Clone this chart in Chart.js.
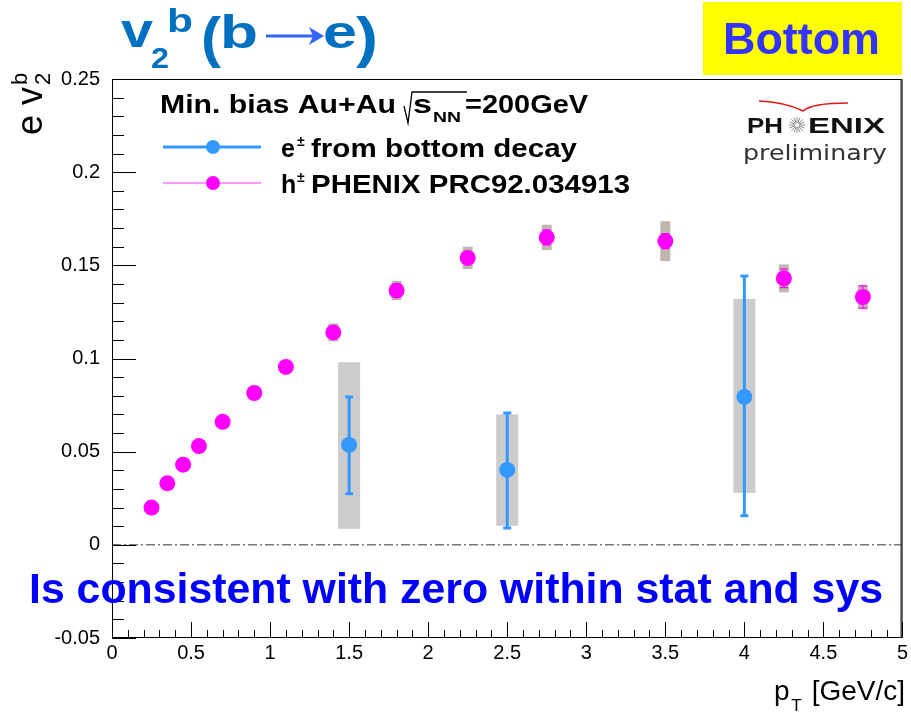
<!DOCTYPE html>
<html>
<head>
<meta charset="utf-8">
<script src="https://cdn.jsdelivr.net/npm/chart.js@4.4.0/dist/chart.umd.min.js"></script>
<style>
  html, body { margin: 0; padding: 0; background: #fff; }
  #wrap { width: 911px; height: 715px; position: relative; }
</style>
</head>
<body>
<div id="wrap"><canvas id="myChart" width="911" height="715"></canvas></div>
<script>
// h+- PHENIX PRC92.034913
const hPt      = [0.25, 0.35, 0.45, 0.55, 0.7, 0.9, 1.1, 1.4, 1.8, 2.25, 2.75, 3.5, 4.25, 4.75];
const hV2      = [0.020, 0.033, 0.043, 0.053, 0.066, 0.0815, 0.0955, 0.114, 0.1365, 0.154, 0.165, 0.163, 0.143, 0.133];
const hStat    = [0, 0, 0, 0, 0, 0, 0, 0.002, 0.003, 0.003, 0.004, 0.004, 0.005, 0.006];
const hSys     = [0, 0, 0, 0, 0, 0, 0, 0.0048, 0.0052, 0.006, 0.0068, 0.0107, 0.0075, 0.0065];

// e+- from bottom decay
const bPt      = [1.5, 2.5, 4.0];
const bV2      = [0.0536, 0.0402, 0.0794];
const bStatHi  = [0.0794, 0.0708, 0.1443];
const bStatLo  = [0.0274, 0.0091, 0.0156];
const bSysHi   = [0.098, 0.070, 0.132];
const bSysLo   = [0.0086, 0.0102, 0.0279];

const xTicks = [0, 0.5, 1, 1.5, 2, 2.5, 3, 3.5, 4, 4.5, 5];
const xTickLabels = ['0', '0.5', '1', '1.5', '2', '2.5', '3', '3.5', '4', '4.5', '5'];
const yTicks = [-0.05, 0, 0.05, 0.1, 0.15, 0.2, 0.25];
const yTickLabels = ['-0.05', '0', '0.05', '0.1', '0.15', '0.2', '0.25'];

const BLUE = '#3399ff';
const MAG = '#ff00ff';
const FONT = '"Liberation Sans", Arial, sans-serif';

// text squeezed/stretched to a given width
function fitText(c, txt, x, y, w, font, color) {
  c.save();
  c.font = font;
  c.fillStyle = color;
  c.textAlign = 'left';
  c.textBaseline = 'alphabetic';
  const m = c.measureText(txt).width;
  c.translate(x, y);
  c.scale(w / m, 1);
  c.fillText(txt, 0, 0);
  c.restore();
}
function txt(c, t, x, y, font, color, align) {
  c.save();
  c.font = font;
  c.fillStyle = color;
  c.textAlign = align || 'left';
  c.textBaseline = 'alphabetic';
  c.fillText(t, x, y);
  const w = c.measureText(t).width;
  c.restore();
  return w;
}

const decor = {
  id: 'decor',
  beforeDatasetsDraw(chart) {
    const c = chart.ctx, xs = chart.scales.x, ys = chart.scales.y, a = chart.chartArea;
    c.save();
    // dash-dot zero line
    c.strokeStyle = '#333';
    c.lineWidth = 1;
    c.setLineDash([9, 3, 2, 3]);
    c.beginPath();
    c.moveTo(a.left, ys.getPixelForValue(0));
    c.lineTo(a.right, ys.getPixelForValue(0));
    c.stroke();
    c.setLineDash([]);

    // systematic boxes, bottom
    c.fillStyle = '#cccccc';
    bPt.forEach((p, i) => {
      const x = xs.getPixelForValue(p);
      const y1 = ys.getPixelForValue(bSysHi[i]), y2 = ys.getPixelForValue(bSysLo[i]);
      c.fillRect(x - 11, y1, 22, y2 - y1);
    });
    // systematic boxes, hadrons
    c.fillStyle = '#c0b8b0';
    hPt.forEach((p, i) => {
      if (!hSys[i]) return;
      const x = xs.getPixelForValue(p);
      const y1 = ys.getPixelForValue(hV2[i] + hSys[i]), y2 = ys.getPixelForValue(hV2[i] - hSys[i]);
      c.fillRect(x - 5, y1, 10, y2 - y1);
    });

    // stat error bars, bottom
    c.strokeStyle = BLUE;
    c.lineWidth = 3;
    bPt.forEach((p, i) => {
      const x = xs.getPixelForValue(p);
      const y1 = ys.getPixelForValue(bStatHi[i]), y2 = ys.getPixelForValue(bStatLo[i]);
      c.beginPath();
      c.moveTo(x, y1); c.lineTo(x, y2);
      c.moveTo(x - 4, y1); c.lineTo(x + 4, y1);
      c.moveTo(x - 4, y2); c.lineTo(x + 4, y2);
      c.stroke();
    });
    // stat error bars, hadrons
    c.strokeStyle = MAG;
    c.lineWidth = 1.2;
    hPt.forEach((p, i) => {
      if (!hStat[i]) return;
      const x = xs.getPixelForValue(p);
      const y1 = ys.getPixelForValue(hV2[i] + hStat[i]), y2 = ys.getPixelForValue(hV2[i] - hStat[i]);
      c.beginPath();
      c.moveTo(x, y1); c.lineTo(x, y2);
      c.moveTo(x - 4, y1); c.lineTo(x + 4, y1);
      c.moveTo(x - 4, y2); c.lineTo(x + 4, y2);
      c.stroke();
    });
    c.restore();
  },
  afterDraw(chart) {
    const c = chart.ctx, xs = chart.scales.x, ys = chart.scales.y, a = chart.chartArea;
    c.save();
    // frame
    c.strokeStyle = '#000';
    c.lineWidth = 1;
    c.strokeRect(a.left + 0.5, a.top + 0.5, a.right - a.left - 1, a.bottom - a.top - 1);
    c.strokeStyle = '#444';
    c.lineWidth = 2;
    c.beginPath();
    c.moveTo(a.right - 1, a.top); c.lineTo(a.right - 1, a.bottom);
    c.stroke();

    // inward ticks
    c.strokeStyle = '#000';
    c.lineWidth = 1;
    c.beginPath();
    for (let k = 0; k <= 30; k++) {
      const v = -0.05 + k * 0.01;
      const y = Math.round(ys.getPixelForValue(v)) + 0.5;
      const len = (k % 5 === 0) ? 24 : 12;
      c.moveTo(a.left, y); c.lineTo(a.left + len, y);
    }
    for (let k = 0; k <= 50; k++) {
      const x = Math.round(xs.getPixelForValue(k * 0.1)) + 0.5;
      const len = (k % 5 === 0) ? 16 : 8;
      c.moveTo(x, a.bottom); c.lineTo(x, a.bottom - len);
    }
    c.stroke();
    c.restore();

    // title v2b(b->e)
    const tc = '#0070c0';
    fitText(c, 'v', 121, 47, 32, 'bold 48px ' + FONT, tc);
    fitText(c, '2', 151, 68, 18, 'bold 30px ' + FONT, tc);
    fitText(c, 'b', 167, 32, 26, 'bold 33px ' + FONT, tc);
    fitText(c, '(', 201, 56, 20, 'bold 55px ' + FONT, tc);
    fitText(c, 'b', 220, 48, 38, 'bold 46px ' + FONT, tc);
    c.save();
    c.strokeStyle = '#3366ff';
    c.fillStyle = '#3366ff';
    c.lineWidth = 3;
    c.beginPath(); c.moveTo(266, 36); c.lineTo(314, 36); c.stroke();
    c.beginPath(); c.moveTo(324, 36); c.lineTo(309, 27); c.lineTo(313, 36); c.lineTo(309, 45); c.closePath(); c.fill();
    c.restore();
    fitText(c, 'e', 323, 48, 34, 'bold 46px ' + FONT, tc);
    fitText(c, ')', 356, 56, 22, 'bold 55px ' + FONT, tc);

    // Bottom label
    c.fillStyle = '#ffff00';
    c.fillRect(703, 2, 199, 73);
    fitText(c, 'Bottom', 723, 54, 157, 'bold 44px ' + FONT, '#3333ff');

    // legend
    const lb = 'bold 25px ' + FONT;
    fitText(c, 'Min. bias Au+Au', 160, 113, 236, lb, '#000');
    c.save();
    c.strokeStyle = '#000';
    c.lineWidth = 1.3;
    c.beginPath();
    c.moveTo(404, 106); c.lineTo(408, 123); c.lineTo(412, 92); c.lineTo(467, 92);
    c.stroke();
    c.restore();
    fitText(c, 's', 413, 113, 19, lb, '#000');
    fitText(c, 'NN', 433, 122, 28, 'bold 15px ' + FONT, '#000');
    fitText(c, '=200GeV', 465, 113, 123, lb, '#000');

    c.save();
    c.strokeStyle = BLUE; c.lineWidth = 3;
    c.beginPath(); c.moveTo(163, 147); c.lineTo(261, 147); c.stroke();
    c.fillStyle = BLUE;
    c.beginPath(); c.arc(213, 147, 7, 0, Math.PI * 2); c.fill();
    c.strokeStyle = '#ff77ff'; c.lineWidth = 1.5;
    c.beginPath(); c.moveTo(163, 183); c.lineTo(261, 183); c.stroke();
    c.fillStyle = MAG;
    c.beginPath(); c.arc(213, 183, 7, 0, Math.PI * 2); c.fill();
    c.restore();
    txt(c, 'e', 281, 157, lb, '#000');
    txt(c, '\u00b1', 297, 146, 'bold 14px ' + FONT, '#000');
    fitText(c, 'from bottom decay', 311, 157, 266, lb, '#000');
    txt(c, 'h', 281, 193, lb, '#000');
    txt(c, '\u00b1', 297, 182, 'bold 14px ' + FONT, '#000');
    fitText(c, 'PHENIX PRC92.034913', 311, 193, 319, lb, '#000');

    // PHENIX preliminary logo
    c.save();
    c.strokeStyle = '#e01818'; c.lineWidth = 1.6;
    c.beginPath();
    c.moveTo(759, 101); c.quadraticCurveTo(785, 102, 803, 111);
    c.quadraticCurveTo(812, 103, 848, 103);
    c.stroke();
    c.strokeStyle = '#8a8a8a'; c.lineWidth = 1;
    c.beginPath();
    for (let k = 0; k < 16; k++) {
      const ang = k * Math.PI / 8;
      c.moveTo(797 + 2 * Math.cos(ang), 125 + 2 * Math.sin(ang));
      c.lineTo(797 + 8 * Math.cos(ang), 125 + 8 * Math.sin(ang));
    }
    c.stroke();
    c.restore();
    fitText(c, 'PH', 747, 133, 36, 'bold 22px ' + FONT, '#111');
    fitText(c, 'ENIX', 808, 133, 77, 'bold 22px ' + FONT, '#111');
    fitText(c, 'preliminary', 743, 160, 144, '21px "DejaVu Sans", sans-serif', '#333');

    // axis titles
    c.save();
    c.translate(42, 135);
    c.rotate(-Math.PI / 2);
    const w1 = txt(c, 'e v', 0, 0, '36px ' + FONT, '#000');
    txt(c, '2', w1 + 2, 8, '22px ' + FONT, '#000');
    txt(c, 'b', w1 + 2, -15, '22px ' + FONT, '#000');
    c.restore();
    const wT = txt(c, '[GeV/c]', 905, 700, '28px ' + FONT, '#000', 'right');
    txt(c, 'T', 905 - wT - 10, 711, '17px ' + FONT, '#000', 'right');
    txt(c, 'p', 905 - wT - 22, 700, '28px ' + FONT, '#000', 'right');

    // conclusion
    fitText(c, 'Is consistent with zero within stat and sys', 29, 603, 854, 'bold 42px ' + FONT, '#0000ff');
  }
};

const ctx = document.getElementById('myChart');
new Chart(ctx, {
  type: 'scatter',
  data: {
    datasets: [
      {
        label: 'e\u00b1 from bottom decay',
        data: bPt.map((p, i) => ({ x: p, y: bV2[i] })),
        pointRadius: 8,
        pointBackgroundColor: BLUE,
        pointBorderWidth: 0,
        showLine: false
      },
      {
        label: 'h\u00b1 PHENIX PRC92.034913',
        data: hPt.map((p, i) => ({ x: p, y: hV2[i] })),
        pointRadius: 8,
        pointBackgroundColor: MAG,
        pointBorderWidth: 0,
        showLine: false
      }
    ]
  },
  options: {
    responsive: false,
    animation: false,
    devicePixelRatio: 1,
    layout: { padding: { top: 79, right: 6, left: 0, bottom: 0 } },
    plugins: { legend: { display: false }, tooltip: { enabled: false } },
    scales: {
      x: {
        type: 'linear',
        min: 0,
        max: 5,
        afterBuildTicks: s => { s.ticks = xTicks.map(v => ({ value: v })); },
        afterFit: s => { s.height = 77; },
        ticks: {
          callback: (v, i) => xTickLabels[i],
          font: { family: 'Liberation Sans', size: 20 },
          color: '#000',
          padding: 3,
          maxRotation: 0,
          autoSkip: false
        },
        grid: { display: false, drawTicks: false },
        border: { display: false }
      },
      y: {
        type: 'linear',
        min: -0.05,
        max: 0.25,
        afterBuildTicks: s => { s.ticks = yTicks.map(v => ({ value: v })); },
        afterFit: s => { s.width = 112; },
        ticks: {
          callback: (v, i) => yTickLabels[i],
          font: { family: 'Liberation Sans', size: 20 },
          color: '#000',
          padding: 12,
          autoSkip: false
        },
        grid: { display: false, drawTicks: false },
        border: { display: false }
      }
    }
  },
  plugins: [decor]
});
</script>
</body>
</html>
